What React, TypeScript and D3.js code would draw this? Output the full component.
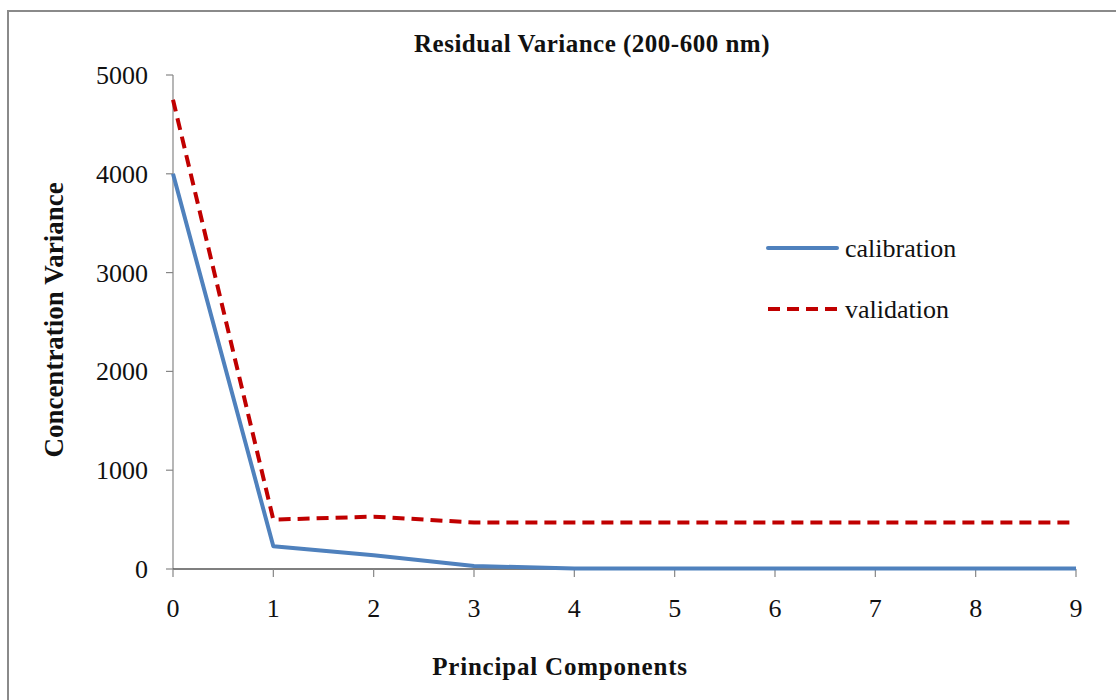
import React from "react";
import * as d3 from "d3";

const components = [0, 1, 2, 3, 4, 5, 6, 7, 8, 9];
const calibration = [4000, 230, 140, 30, 5, 5, 5, 5, 5, 5];
const validation = [4750, 500, 530, 470, 470, 470, 470, 470, 470, 470];
const yTicks = [0, 1000, 2000, 3000, 4000, 5000];
const seriesNames = ["calibration", "validation"];

export default function App() {
  const W = 1116, H = 700;
  const x = d3.scaleLinear().domain([0, 9]).range([173, 1076]);
  const y = d3.scaleLinear().domain([0, 5000]).range([569, 75]);
  const line = d3.line<number>().x((_, i) => x(components[i])).y((d) => y(d));
  const font = "'Liberation Serif', 'Times New Roman', serif";
  const axisColor = "#868686";
  return (
    <svg width={W} height={H} style={{ position: "absolute", left: 0, top: 0, background: "#fff" }} fontFamily={font}>
      <rect x={8} y={11} width={1120} height={700} fill="#fff" stroke="#8a8a8a" strokeWidth={2} />
      <text x={592} y={52} textAnchor="middle" fontSize={25} fontWeight="bold" fill="#111" letterSpacing={0.5}>Residual Variance (200-600 nm)</text>
      {/* y axis */}
      <line x1={x(0)} x2={x(0)} y1={y(0)} y2={y(5000)} stroke={axisColor} strokeWidth={1.2} />
      {yTicks.map((t) => (
        <g key={t}>
          <line x1={x(0) - 7} x2={x(0)} y1={y(t)} y2={y(t)} stroke={axisColor} strokeWidth={1.2} />
          <text x={x(0) - 25} y={y(t) + 9} textAnchor="end" fontSize={26} fill="#111">{t}</text>
        </g>
      ))}
      {/* x axis */}
      <line x1={x(0)} x2={x(9)} y1={y(0)} y2={y(0)} stroke="#555" strokeWidth={1.5} />
      {components.map((c) => (
        <g key={c}>
          <line x1={x(c)} x2={x(c)} y1={y(0)} y2={y(0) + 8} stroke={axisColor} strokeWidth={1.2} />
          <text x={x(c)} y={617} textAnchor="middle" fontSize={26} fill="#111">{c}</text>
        </g>
      ))}
      <text x={560} y={675} textAnchor="middle" fontSize={25} fontWeight="bold" fill="#111" letterSpacing={0.8}>Principal Components</text>
      <text transform={`translate(63,320) rotate(-90)`} textAnchor="middle" fontSize={27} fontWeight="bold" fill="#111">Concentration Variance</text>
      {/* series */}
      <path d={line(calibration) || ""} fill="none" stroke="#4f81bd" strokeWidth={4} strokeLinejoin="round" />
      <path d={line(validation) || ""} fill="none" stroke="#c00000" strokeWidth={4} strokeDasharray="12,7" />
      {/* legend */}
      <line x1={768} x2={837} y1={248} y2={248} stroke="#4f81bd" strokeWidth={4} strokeLinecap="round" />
      <text x={845} y={257} fontSize={26} fill="#111">{seriesNames[0]}</text>
      <line x1={768} x2={837} y1={309} y2={309} stroke="#c00000" strokeWidth={4} strokeDasharray="12,7" />
      <text x={845} y={318} fontSize={26} fill="#111">{seriesNames[1]}</text>
    </svg>
  );
}
